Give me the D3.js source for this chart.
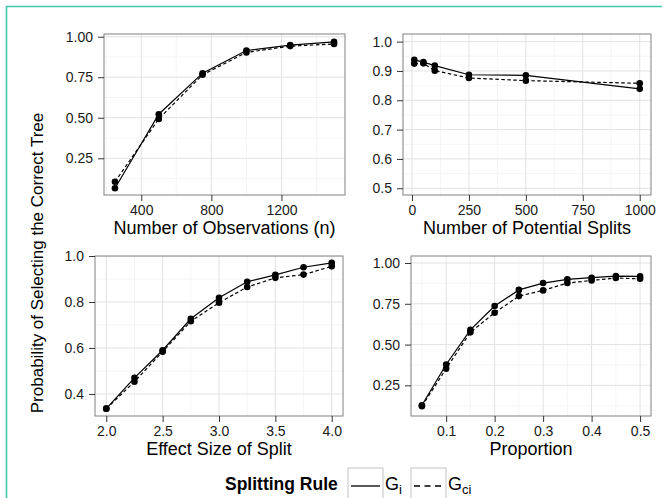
<!DOCTYPE html>
<html>
<head>
<meta charset="utf-8">
<script src="https://cdn.jsdelivr.net/npm/d3@7"></script>
<style>
  body { margin: 0; background: #fff; }
  svg { display: block; font-family: "Liberation Sans", Arial, sans-serif; }
</style>
</head>
<body>
<div id="chart"></div>
<script>
// values
var obsN   = [250, 500, 750, 1000, 1250, 1500];
var obsGi  = [0.065, 0.522, 0.775, 0.915, 0.948, 0.968];
var obsGci = [0.105, 0.493, 0.765, 0.903, 0.942, 0.955];

var splitsK   = [10, 50, 100, 250, 500, 1000];
var splitsGi  = [0.938, 0.930, 0.918, 0.887, 0.885, 0.839];
var splitsGci = [0.925, 0.926, 0.901, 0.876, 0.867, 0.858];

var effectSize = [2.0, 2.25, 2.5, 2.75, 3.0, 3.25, 3.5, 3.75, 4.0];
var effectGi   = [0.336, 0.470, 0.590, 0.727, 0.818, 0.888, 0.918, 0.951, 0.970];
var effectGci  = [0.336, 0.453, 0.584, 0.716, 0.797, 0.865, 0.905, 0.919, 0.955];

var proportion = [0.05, 0.10, 0.15, 0.20, 0.25, 0.30, 0.35, 0.40, 0.45, 0.50];
var propGi     = [0.128, 0.378, 0.590, 0.736, 0.835, 0.877, 0.900, 0.910, 0.920, 0.918];
var propGci    = [0.122, 0.352, 0.575, 0.695, 0.797, 0.832, 0.877, 0.893, 0.908, 0.903];

// tick labels
var obsXTicks    = [400, 800, 1200];
var obsYTicks    = [0.25, 0.50, 0.75, 1.00];
var splitsXTicks = [0, 250, 500, 750, 1000];
var splitsYTicks = [0.5, 0.6, 0.7, 0.8, 0.9, 1.0];
var effectXTicks = [2.0, 2.5, 3.0, 3.5, 4.0];
var effectYTicks = [0.4, 0.6, 0.8, 1.0];
var propXTicks   = [0.1, 0.2, 0.3, 0.4, 0.5];
var propYTicks   = [0.25, 0.50, 0.75, 1.00];

var width = 662, height = 498;
var font = "'Liberation Sans', Arial, sans-serif";

var panels = [
  { x: obsN, gi: obsGi, gci: obsGci, box: [104, 34, 345, 195],
    xDom: [187.5, 1562.5], yDom: [0.0235, 1.0167],
    xTicks: obsXTicks, yTicks: obsYTicks, xFmt: d3.format("d"), yFmt: d3.format(".2f"),
    title: "Number of Observations (n)" },
  { x: splitsK, gi: splitsGi, gci: splitsGci, box: [403, 34, 651, 195],
    xDom: [-39.5, 1049.5], yDom: [0.477, 1.026],
    xTicks: splitsXTicks, yTicks: splitsYTicks, xFmt: d3.format("d"), yFmt: d3.format(".1f"),
    title: "Number of Potential Splits" },
  { x: effectSize, gi: effectGi, gci: effectGci, box: [95, 256, 343, 416],
    xDom: [1.9, 4.1], yDom: [0.304, 1.0],
    xTicks: effectXTicks, yTicks: effectYTicks, xFmt: d3.format(".1f"), yFmt: d3.format(".1f"),
    title: "Effect Size of Split" },
  { x: proportion, gi: propGi, gci: propGci, box: [411, 256, 651, 416],
    xDom: [0.0275, 0.5225], yDom: [0.062, 1.043],
    xTicks: propXTicks, yTicks: propYTicks, xFmt: d3.format(".1f"), yFmt: d3.format(".2f"),
    title: "Proportion" }
];

var svg = d3.select("#chart").append("svg")
    .attr("width", width)
    .attr("height", height);

svg.append("rect").attr("width", width).attr("height", height).attr("fill", "#fff");

// teal frame on the left and top
svg.append("line").attr("x1", 6).attr("x2", width).attr("y1", 6.5).attr("y2", 6.5)
  .attr("stroke", "#3fc9a9").attr("stroke-width", 1.6);
svg.append("line").attr("x1", 6.5).attr("x2", 6.5).attr("y1", 6).attr("y2", height)
  .attr("stroke", "#3fc9a9").attr("stroke-width", 1.6);

function minorOf(ticks, dom) {
  var step = ticks[1] - ticks[0];
  var out = [];
  for (var i = -1; i < ticks.length; i++) {
    var m = ticks[0] + step * (i + 0.5);
    if (m > dom[0] && m < dom[1]) out.push(m);
  }
  return out;
}

panels.forEach(function(p, idx) {
  var x0 = p.box[0], y0 = p.box[1], x1 = p.box[2], y1 = p.box[3];
  var x = d3.scaleLinear().domain(p.xDom).range([x0, x1]);
  var y = d3.scaleLinear().domain(p.yDom).range([y1, y0]);
  var g = svg.append("g");

  var clipId = "clip" + idx;
  g.append("clipPath").attr("id", clipId)
    .append("rect").attr("x", x0).attr("y", y0).attr("width", x1 - x0).attr("height", y1 - y0);

  var grid = g.append("g").attr("clip-path", "url(#" + clipId + ")");
  var xMinor = minorOf(p.xTicks, p.xDom), yMinor = minorOf(p.yTicks, p.yDom);

  grid.selectAll(".xminor").data(xMinor).enter().append("line")
    .attr("x1", function(d) { return x(d); }).attr("x2", function(d) { return x(d); })
    .attr("y1", y0).attr("y2", y1)
    .attr("stroke", "#f4f4f4").attr("stroke-width", 0.9);
  grid.selectAll(".yminor").data(yMinor).enter().append("line")
    .attr("y1", function(d) { return y(d); }).attr("y2", function(d) { return y(d); })
    .attr("x1", x0).attr("x2", x1)
    .attr("stroke", "#f4f4f4").attr("stroke-width", 0.9);
  grid.selectAll(".xmajor").data(p.xTicks).enter().append("line")
    .attr("x1", function(d) { return x(d); }).attr("x2", function(d) { return x(d); })
    .attr("y1", y0).attr("y2", y1)
    .attr("stroke", "#e2e2e2").attr("stroke-width", 1);
  grid.selectAll(".ymajor").data(p.yTicks).enter().append("line")
    .attr("y1", function(d) { return y(d); }).attr("y2", function(d) { return y(d); })
    .attr("x1", x0).attr("x2", x1)
    .attr("stroke", "#e2e2e2").attr("stroke-width", 1);

  // lines, Gci dashed first then Gi solid
  var rows = p.x.map(function(v, i) { return { x: v, gi: p.gi[i], gci: p.gci[i] }; });
  var lineGci = d3.line().x(function(d) { return x(d.x); }).y(function(d) { return y(d.gci); });
  var lineGi  = d3.line().x(function(d) { return x(d.x); }).y(function(d) { return y(d.gi); });

  g.append("path").datum(rows).attr("d", lineGci)
    .attr("fill", "none").attr("stroke", "#000").attr("stroke-width", 1.2)
    .attr("stroke-dasharray", "3.5,2.5");
  g.append("path").datum(rows).attr("d", lineGi)
    .attr("fill", "none").attr("stroke", "#000").attr("stroke-width", 1.2);

  g.selectAll(".pgci").data(rows).enter().append("circle")
    .attr("cx", function(d) { return x(d.x); }).attr("cy", function(d) { return y(d.gci); })
    .attr("r", 3.3).attr("fill", "#000");
  g.selectAll(".pgi").data(rows).enter().append("circle")
    .attr("cx", function(d) { return x(d.x); }).attr("cy", function(d) { return y(d.gi); })
    .attr("r", 3.3).attr("fill", "#000");

  // panel border
  g.append("rect").attr("x", x0).attr("y", y0).attr("width", x1 - x0).attr("height", y1 - y0)
    .attr("fill", "none").attr("stroke", "#808080").attr("stroke-width", 1);

  // axes
  var xAxis = g.append("g").attr("transform", "translate(0," + y1 + ")")
    .call(d3.axisBottom(x).tickValues(p.xTicks).tickFormat(p.xFmt).tickSize(6).tickPadding(4).tickSizeOuter(0));
  var yAxis = g.append("g").attr("transform", "translate(" + x0 + ",0)")
    .call(d3.axisLeft(y).tickValues(p.yTicks).tickFormat(p.yFmt).tickSize(6).tickPadding(5).tickSizeOuter(0));
  [xAxis, yAxis].forEach(function(a) {
    a.select(".domain").remove();
    a.selectAll(".tick line").attr("stroke", "#333").attr("stroke-width", 1);
    a.selectAll("text").attr("fill", "#1a1a1a").style("font-size", "14px").style("font-family", font);
  });

  g.append("text")
    .attr("x", (x0 + x1) / 2)
    .attr("y", y1 + 38.5)
    .attr("text-anchor", "middle")
    .style("font-size", "18px")
    .attr("fill", "#000")
    .text(p.title);
});

// shared y-axis title
svg.append("text")
  .attr("transform", "translate(42.5,263) rotate(-90)")
  .attr("text-anchor", "middle")
  .style("font-size", "17px")
  .attr("fill", "#000")
  .text("Probability of Selecting the Correct Tree");

// legend
var legend = svg.append("g");
legend.append("text")
  .attr("x", 225).attr("y", 490)
  .style("font-size", "17.5px").style("font-weight", "bold")
  .text("Splitting Rule");

var keys = [
  { x: 348, dash: null, label: "G", sub: "i" },
  { x: 411, dash: "6,4.5", label: "G", sub: "ci" }
];
keys.forEach(function(k) {
  legend.append("rect")
    .attr("x", k.x).attr("y", 468).attr("width", 35).attr("height", 35)
    .attr("fill", "#fff").attr("stroke", "#c4c4c4").attr("stroke-width", 1);
  legend.append("line")
    .attr("x1", k.x + 3).attr("x2", k.x + 32).attr("y1", 486).attr("y2", 486)
    .attr("stroke", "#000").attr("stroke-width", 1.3)
    .attr("stroke-dasharray", k.dash);
  var t = legend.append("text")
    .attr("x", k.x + 37).attr("y", 490)
    .style("font-size", "18px");
  t.append("tspan").text(k.label);
  t.append("tspan").attr("dy", 4).style("font-size", "13px").text(k.sub);
});
</script>
</body>
</html>
